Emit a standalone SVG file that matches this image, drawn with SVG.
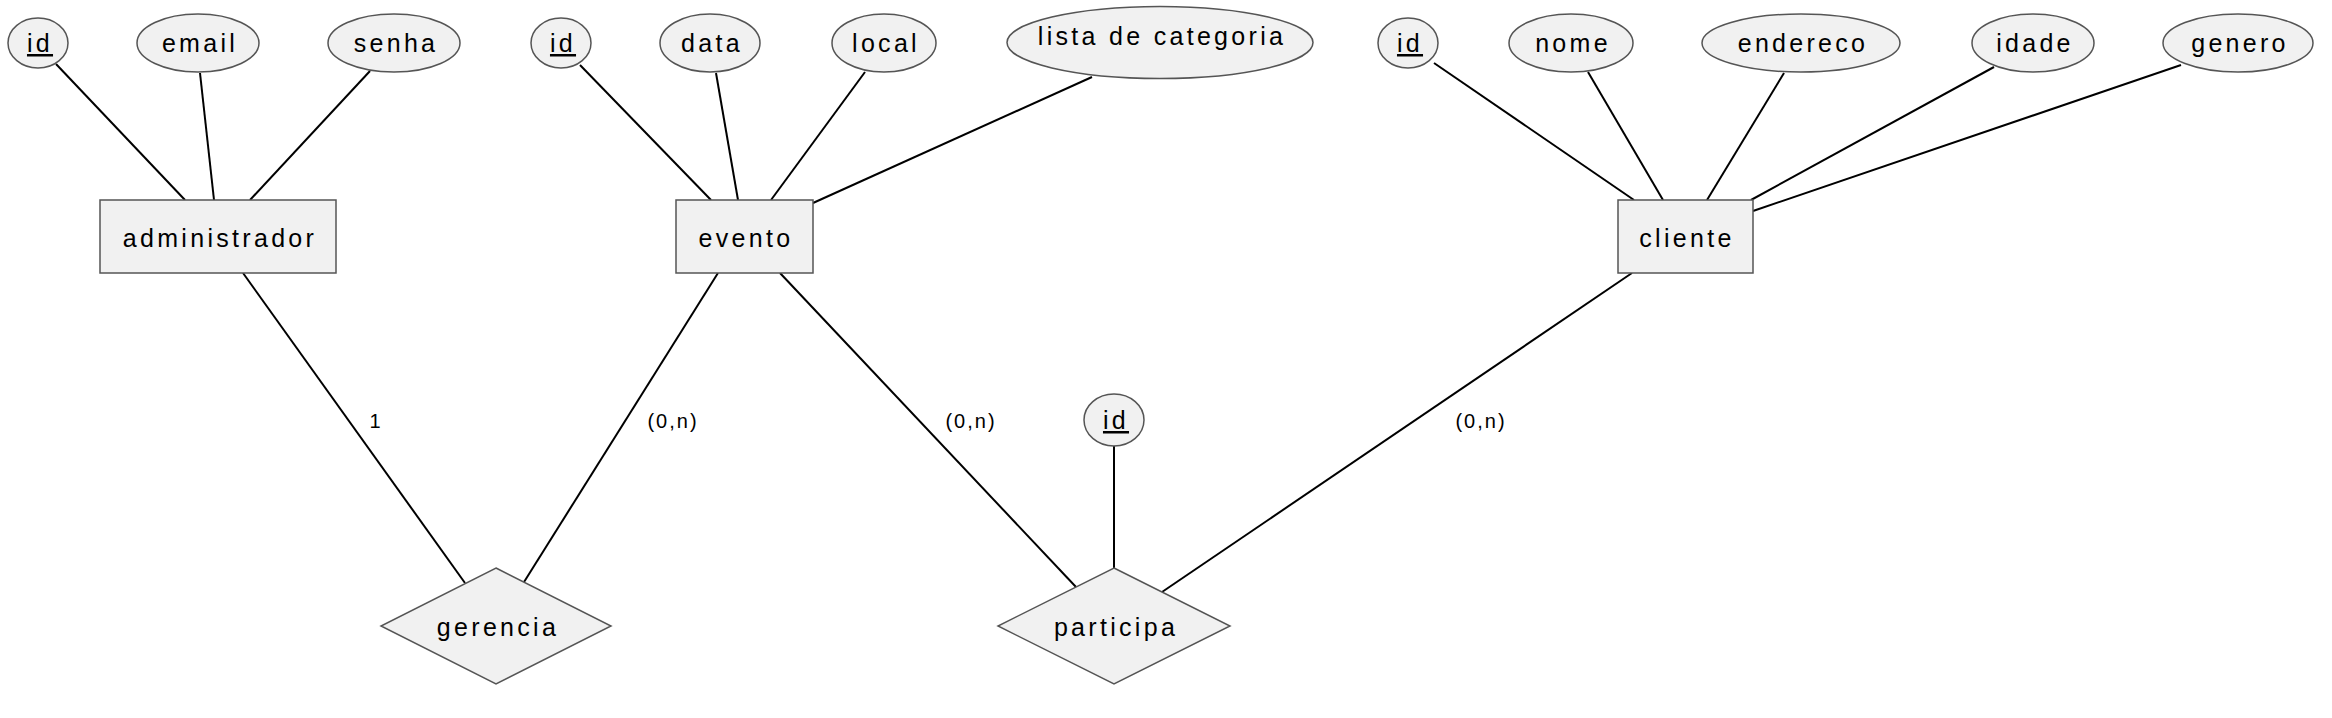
<svg xmlns="http://www.w3.org/2000/svg" width="2332" height="718" viewBox="0 0 2332 718">
<style>
.shape{fill:#f1f1f1;stroke:#555;stroke-width:1.5}
.lbl{font-family:"Liberation Sans",Arial,sans-serif;font-size:25px;letter-spacing:3.3px;fill:#000;text-anchor:middle}
.card{font-family:"Liberation Sans",Arial,sans-serif;font-size:20px;letter-spacing:2px;fill:#000;text-anchor:middle}
.key{text-decoration:underline}
#connectors line{stroke:#000;stroke-width:2}
</style>
<rect width="2332" height="718" fill="#fff"/>
<g id="connectors">
<line x1="56" y1="64" x2="185" y2="200"/>
<line x1="200" y1="73" x2="214" y2="200"/>
<line x1="370" y1="71" x2="250" y2="200"/>
<line x1="580" y1="65" x2="711" y2="200"/>
<line x1="716" y1="73" x2="738" y2="200"/>
<line x1="865" y1="72" x2="771" y2="200"/>
<line x1="1092" y1="77" x2="813" y2="203"/>
<line x1="1434" y1="63" x2="1634" y2="200"/>
<line x1="1588" y1="72" x2="1663" y2="200"/>
<line x1="1784" y1="73" x2="1707" y2="200"/>
<line x1="1994" y1="67" x2="1751" y2="200"/>
<line x1="2181" y1="65" x2="1753" y2="211"/>
<line x1="243" y1="273" x2="465" y2="583"/>
<line x1="718" y1="273" x2="524" y2="582"/>
<line x1="780" y1="273" x2="1076" y2="587"/>
<line x1="1114" y1="446" x2="1114" y2="568"/>
<line x1="1632" y1="273" x2="1162" y2="592"/>
<text class="card" x="376" y="428">1</text>
<text class="card" x="673" y="428">(0,n)</text>
<text class="card" x="971" y="428">(0,n)</text>
<text class="card" x="1481" y="428">(0,n)</text>
</g>
<g id="admin_id"><ellipse class="shape" cx="38" cy="43" rx="30" ry="25"/><text class="lbl key" x="40" y="52">id</text></g>
<g id="admin_email"><ellipse class="shape" cx="198" cy="43" rx="61" ry="29"/><text class="lbl" x="200" y="52">email</text></g>
<g id="admin_senha"><ellipse class="shape" cx="394" cy="43" rx="66" ry="29"/><text class="lbl" x="396" y="52">senha</text></g>
<g id="administrador"><rect class="shape" x="100" y="200" width="236" height="73"/><text class="lbl" x="220" y="247">administrador</text></g>
<g id="evento_id"><ellipse class="shape" cx="561" cy="43" rx="30" ry="25"/><text class="lbl key" x="563" y="52">id</text></g>
<g id="evento_data"><ellipse class="shape" cx="710" cy="43" rx="50" ry="29"/><text class="lbl" x="712" y="52">data</text></g>
<g id="evento_local"><ellipse class="shape" cx="884" cy="43" rx="52" ry="29"/><text class="lbl" x="886" y="52">local</text></g>
<g id="evento_lista"><ellipse class="shape" cx="1160" cy="42.5" rx="153" ry="36"/><text class="lbl" x="1162" y="45">lista de categoria</text></g>
<g id="evento"><rect class="shape" x="676" y="200" width="137" height="73"/><text class="lbl" x="746" y="247">evento</text></g>
<g id="cliente_id"><ellipse class="shape" cx="1408" cy="43" rx="30" ry="25"/><text class="lbl key" x="1410" y="52">id</text></g>
<g id="cliente_nome"><ellipse class="shape" cx="1571" cy="43" rx="62" ry="29"/><text class="lbl" x="1573" y="52">nome</text></g>
<g id="cliente_endereco"><ellipse class="shape" cx="1801" cy="43" rx="99" ry="29"/><text class="lbl" x="1803" y="52">endereco</text></g>
<g id="cliente_idade"><ellipse class="shape" cx="2033" cy="43" rx="61" ry="29"/><text class="lbl" x="2035" y="52">idade</text></g>
<g id="cliente_genero"><ellipse class="shape" cx="2238" cy="43" rx="75" ry="29"/><text class="lbl" x="2240" y="52">genero</text></g>
<g id="cliente"><rect class="shape" x="1618" y="200" width="135" height="73"/><text class="lbl" x="1687" y="247">cliente</text></g>
<g id="gerencia"><polygon class="shape" points="496,568 611,626 496,684 381,626"/><text class="lbl" x="498" y="636">gerencia</text></g>
<g id="participa_id"><ellipse class="shape" cx="1114" cy="420" rx="30" ry="26"/><text class="lbl key" x="1116" y="429">id</text></g>
<g id="participa"><polygon class="shape" points="1114,568 1230,626 1114,684 998,626"/><text class="lbl" x="1116" y="636">participa</text></g>
</svg>
